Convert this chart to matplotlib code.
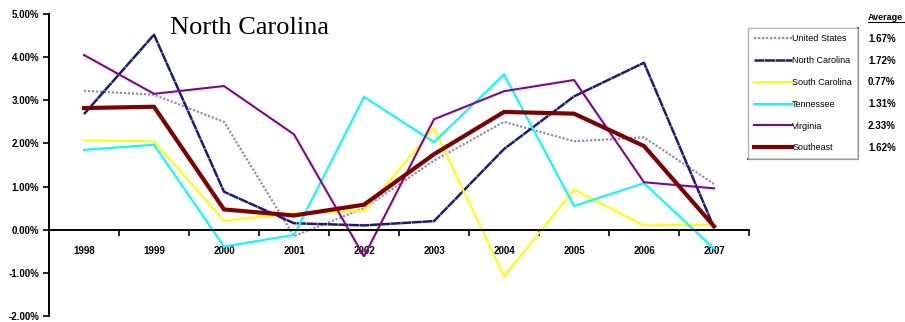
"""Annual growth rates, North Carolina vs. neighbouring states."""

import matplotlib
matplotlib.use("Agg")
import matplotlib.pyplot as plt
from matplotlib.lines import Line2D
from matplotlib.ticker import FuncFormatter
import numpy as np

years = ["1998", "1999", "2000", "2001", "2002", "2003", "2004", "2005", "2006", "2007"]

united_states = [3.22, 3.13, 2.50, -0.15, 0.50, 1.60, 2.50, 2.05, 2.14, 1.06]
north_carolina = [2.68, 4.52, 0.88, 0.15, 0.10, 0.20, 1.87, 3.09, 3.87, 0.05]
south_carolina = [2.07, 2.05, 0.21, 0.38, 0.44, 2.35, -1.08, 0.93, 0.10, 0.12]
tennessee = [1.85, 1.97, -0.39, -0.12, 3.08, 2.03, 3.60, 0.55, 1.08, -0.44]
virginia = [4.05, 3.15, 3.33, 2.21, -0.62, 2.56, 3.21, 3.47, 1.10, 0.96]
southeast = [2.82, 2.85, 0.47, 0.33, 0.58, 1.75, 2.73, 2.69, 1.94, 0.08]

series_names = ["United States", "North Carolina", "South Carolina",
                "Tennessee", "Virginia", "Southeast"]
averages = ["1.67%", "1.72%", "0.77%", "1.31%", "2.33%", "1.62%"]

STYLES = {
    "United States": dict(color="#8c8cc8", lw=1.6, ls=(0, (1, 0.8))),
    "North Carolina": dict(color="#1a1a80", lw=1.8, ls=(0, (4, 0.2))),
    "South Carolina": dict(color="#ffff00", lw=1.5, ls="-"),
    "Tennessee": dict(color="#00ffff", lw=1.5, ls="-"),
    "Virginia": dict(color="#8b008b", lw=1.5, ls="-"),
    "Southeast": dict(color="#800000", lw=3.0, ls="-"),
}

plt.rcParams["font.family"] = ["Liberation Sans", "DejaVu Sans"]

fig = plt.figure(figsize=(9.05, 3.22), dpi=100)
ax = fig.add_axes([49 / 905, 1 - 316 / 322, 700 / 905, 302 / 322])

x = np.arange(len(years))
data = [united_states, north_carolina, south_carolina, tennessee, virginia, southeast]
handles = []
for name, vals in zip(series_names, data):
    st = STYLES[name]
    (ln,) = ax.plot(x, vals, color=st["color"], linewidth=st["lw"],
                    linestyle=st["ls"], label=name, solid_joinstyle="miter")
    handles.append(ln)

ax.set_xlim(-0.5, len(years) - 0.5)
ax.set_ylim(-2, 5)
ax.set_yticks(np.arange(-2, 6, 1))
ax.yaxis.set_major_formatter(FuncFormatter(lambda v, _: f"{v:.2f}%"))

# category axis crosses at zero, labels sit between boundary ticks
ax.spines["bottom"].set_position(("data", 0))
ax.spines["top"].set_visible(False)
ax.spines["right"].set_visible(False)
ax.spines["left"].set_linewidth(1.4)
ax.spines["bottom"].set_linewidth(1.4)
ax.set_xticks(x)
ax.set_xticklabels(years)
ax.set_xticks(np.arange(-0.5, len(years), 1), minor=True)
ax.tick_params(axis="x", which="major", length=0, pad=12,
               labelsize=7, labelcolor="black")
ax.tick_params(axis="x", which="minor", length=4, width=1.2, direction="out")
ax.tick_params(axis="y", length=4, width=1.2, direction="out", labelsize=7, pad=3)
for lab in ax.get_xticklabels() + ax.get_yticklabels():
    lab.set_fontweight("bold")

fig.text(170 / 905, 1 - 28 / 322, "North Carolina", family="Liberation Serif",
         fontsize=19, va="center", ha="left")

leg = fig.legend(handles=handles, loc="upper left",
                 bbox_to_anchor=(748 / 905, 1 - 28 / 322),
                 frameon=True, fancybox=False, edgecolor="#a0a0a0",
                 fontsize=6.5, handlelength=4.2, handletextpad=0.0,
                 labelspacing=1.42, borderpad=0.7, borderaxespad=0.0)
leg.get_frame().set_linewidth(1.0)

fig.canvas.draw()
renderer = fig.canvas.get_renderer()
fb = leg.get_window_extent(renderer).transformed(fig.transFigure.inverted())
# darker lower/right edge on the legend box
fig.add_artist(Line2D([fb.x0, fb.x1, fb.x1], [fb.y0, fb.y0, fb.y1],
                      transform=fig.transFigure, color="black", lw=1.2))

fig.text(868 / 905, 1 - 17 / 322, "Average", fontsize=6.5, fontweight="bold",
         va="center", ha="left")
fig.add_artist(Line2D([868 / 905, 1.0], [1 - 22 / 322] * 2,
                      transform=fig.transFigure, color="black", lw=0.8))
for txt, avg in zip(leg.get_texts(), averages):
    bb = txt.get_window_extent(renderer).transformed(fig.transFigure.inverted())
    fig.text(868 / 905, (bb.y0 + bb.y1) / 2, avg, fontsize=7,
             fontweight="bold", va="center", ha="left")

fig.savefig("out.png", dpi=100)
